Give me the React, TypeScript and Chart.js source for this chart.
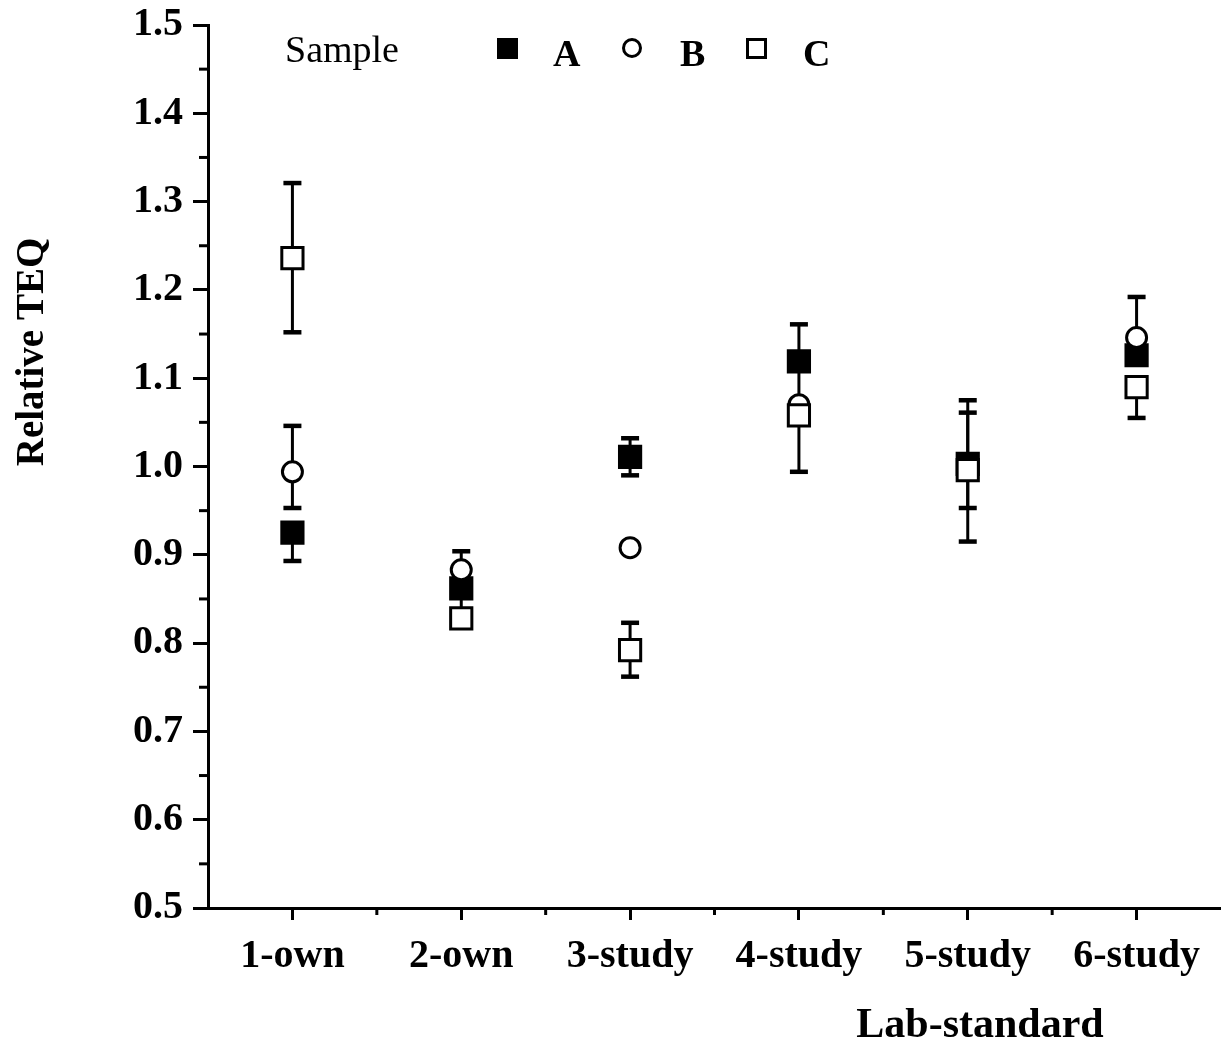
import React, { useEffect, useRef } from 'react';
import { Chart, registerables } from 'chart.js';

Chart.register(...registerables);

const categories = ['1-own', '2-own', '3-study', '4-study', '5-study', '6-study'];
const yTickValues = [0.5, 0.6, 0.7, 0.8, 0.9, 1.0, 1.1, 1.2, 1.3, 1.4, 1.5];

const sampleA = [0.925, 0.862, 1.011, 1.119, 1.003, 1.126];
const sampleB = [0.994, 0.883, 0.908, 1.07, 1.0, 1.146];
const sampleC = [1.236, 0.828, 0.792, 1.058, 0.996, 1.09];

const lowA = [0.893, null, 0.99, 1.07, 0.953, null];
const highA = [null, null, 1.032, 1.161, 1.061, null];
const lowB = [0.953, null, null, null, null, null];
const highB = [1.046, 0.904, null, null, null, 1.192];
const lowC = [1.152, null, 0.762, 0.994, 0.915, 1.055];
const highC = [1.321, 0.862, 0.823, null, 1.075, null];

const FONT = 'Liberation Serif';

const errorBars = [
  { low: lowA, high: highA, values: sampleA },
  { low: lowB, high: highB, values: sampleB },
  { low: lowC, high: highC, values: sampleC },
];

const isMajor = (v: number) => Math.round(v * 100) % 10 === 0;

const customPlugin = {
  id: 'custom',
  beforeDatasetsDraw(chart: any) {
    const ctx = chart.ctx;
    const xs = chart.scales.x;
    const ys = chart.scales.y;
    ctx.save();
    ctx.strokeStyle = '#000';
    ctx.lineCap = 'butt';
    errorBars.forEach((eb) => {
      eb.values.forEach((v, i) => {
        const px = xs.getPixelForValue(i + 1);
        const py = ys.getPixelForValue(v);
        [eb.low[i], eb.high[i]].forEach((e) => {
          if (e === null || e === undefined) return;
          const pe = ys.getPixelForValue(e);
          ctx.lineWidth = 3;
          ctx.beginPath();
          ctx.moveTo(px, py);
          ctx.lineTo(px, pe);
          ctx.stroke();
          ctx.lineWidth = 4.5;
          ctx.beginPath();
          ctx.moveTo(px - 9, pe);
          ctx.lineTo(px + 9, pe);
          ctx.stroke();
        });
      });
    });
    ctx.restore();
  },
  afterDraw(chart: any) {
    const ctx = chart.ctx;
    const xs = chart.scales.x;
    const ys = chart.scales.y;
    ctx.save();
    ctx.fillStyle = '#000';
    ctx.strokeStyle = '#000';
    ctx.lineWidth = 3;
    for (let i = 0; i < categories.length - 1; i++) {
      const px = xs.getPixelForValue(i + 1.5);
      ctx.beginPath();
      ctx.moveTo(px, xs.top);
      ctx.lineTo(px, xs.top + 7);
      ctx.stroke();
    }
    for (let i = 0; i < yTickValues.length - 1; i++) {
      const py = ys.getPixelForValue(yTickValues[i] + 0.05);
      ctx.beginPath();
      ctx.moveTo(ys.right, py);
      ctx.lineTo(ys.right - 9, py);
      ctx.stroke();
    }
    ctx.textBaseline = 'alphabetic';
    ctx.textAlign = 'left';
    ctx.font = `38px "${FONT}"`;
    ctx.fillText('Sample', 285, 62);
    ctx.font = `bold 38px "${FONT}"`;
    ctx.fillRect(497, 38, 21, 21);
    ctx.fillText('A', 553, 66);
    ctx.lineWidth = 3;
    ctx.beginPath();
    ctx.arc(632, 48, 8.5, 0, Math.PI * 2);
    ctx.stroke();
    ctx.fillText('B', 680, 66);
    ctx.strokeRect(747.5, 39.5, 18, 18);
    ctx.fillText('C', 803, 66);
    ctx.font = `bold 42px "${FONT}"`;
    ctx.textAlign = 'center';
    ctx.fillText('Lab-standard', 980, 1037);
    ctx.font = `bold 39px "${FONT}"`;
    ctx.translate(43, 352);
    ctx.rotate(-Math.PI / 2);
    ctx.fillText('Relative TEQ', 0, 0);
    ctx.restore();
  },
};

export default function App() {
  const ref = useRef<HTMLCanvasElement | null>(null);
  useEffect(() => {
    const canvas = ref.current;
    if (!canvas) return;
    const mk = (vals: number[]) => vals.map((v, i) => ({ x: i + 1, y: v }));
    const chart = new Chart(canvas, {
      type: 'scatter',
      data: {
        datasets: [
          { label: 'A', data: mk(sampleA), pointStyle: 'rect', pointRadius: 15, backgroundColor: '#000', borderColor: '#000', borderWidth: 3, order: 3 },
          { label: 'B', data: mk(sampleB), pointStyle: 'circle', pointRadius: 10, backgroundColor: '#fff', borderColor: '#000', borderWidth: 3, order: 2 },
          { label: 'C', data: mk(sampleC), pointStyle: 'rect', pointRadius: 15, backgroundColor: '#fff', borderColor: '#000', borderWidth: 3, order: 1 },
        ],
      },
      options: {
        responsive: false,
        animation: false,
        devicePixelRatio: 1,
        layout: { autoPadding: false, padding: { top: 25, right: 0, left: 0, bottom: 0 } },
        plugins: { legend: { display: false }, tooltip: { enabled: false } },
        scales: {
          x: {
            type: 'linear',
            min: 0.5,
            max: 6.5,
            afterFit: (s: any) => {
              s.height = 137;
              s.paddingRight = 0;
              s.paddingLeft = 0;
            },
            ticks: {
              stepSize: 0.5,
              autoSkip: false,
              maxRotation: 0,
              padding: 13,
              color: '#000',
              font: { family: FONT, weight: 'bold', size: 40 },
              callback: (v: any) => (Number.isInteger(v) && v >= 1 && v <= 6 ? categories[v - 1] : ''),
            },
            grid: {
              drawOnChartArea: false,
              drawTicks: true,
              tickLength: 12,
              tickWidth: 3,
              tickColor: (c: any) => (c.tick && Number.isInteger(c.tick.value) ? '#000' : 'rgba(0,0,0,0)'),
            },
            border: { display: true, color: '#000', width: 3 },
          },
          y: {
            type: 'linear',
            min: 0.5,
            max: 1.5,
            afterFit: (s: any) => {
              s.width = 208;
              s.paddingTop = 0;
              s.paddingBottom = 0;
            },
            afterBuildTicks: (s: any) => {
              const t: any[] = [];
              yTickValues.forEach((v, i) => {
                t.push({ value: v });
                if (i < yTickValues.length - 1) t.push({ value: Math.round((v + 0.05) * 100) / 100 });
              });
              s.ticks = t;
            },
            ticks: {
              autoSkip: false,
              padding: 10,
              color: '#000',
              font: { family: FONT, weight: 'bold', size: 40 },
              callback: (v: any) => (isMajor(v) ? (Math.round(v * 100) / 100).toFixed(1) : ''),
            },
            grid: {
              drawOnChartArea: false,
              drawTicks: true,
              tickLength: 15,
              tickWidth: 3,
              tickColor: (c: any) => (c.tick && isMajor(c.tick.value) ? '#000' : 'rgba(0,0,0,0)'),
            },
            border: { display: true, color: '#000', width: 3 },
          },
        },
      },
      plugins: [customPlugin],
    } as any);
    return () => chart.destroy();
  }, []);
  return (
    <div style={{ position: 'absolute', left: 0, top: 0, width: 1221, height: 1045, background: '#fff' }}>
      <canvas ref={ref} width={1221} height={1045} style={{ display: 'block' }} />
    </div>
  );
}
